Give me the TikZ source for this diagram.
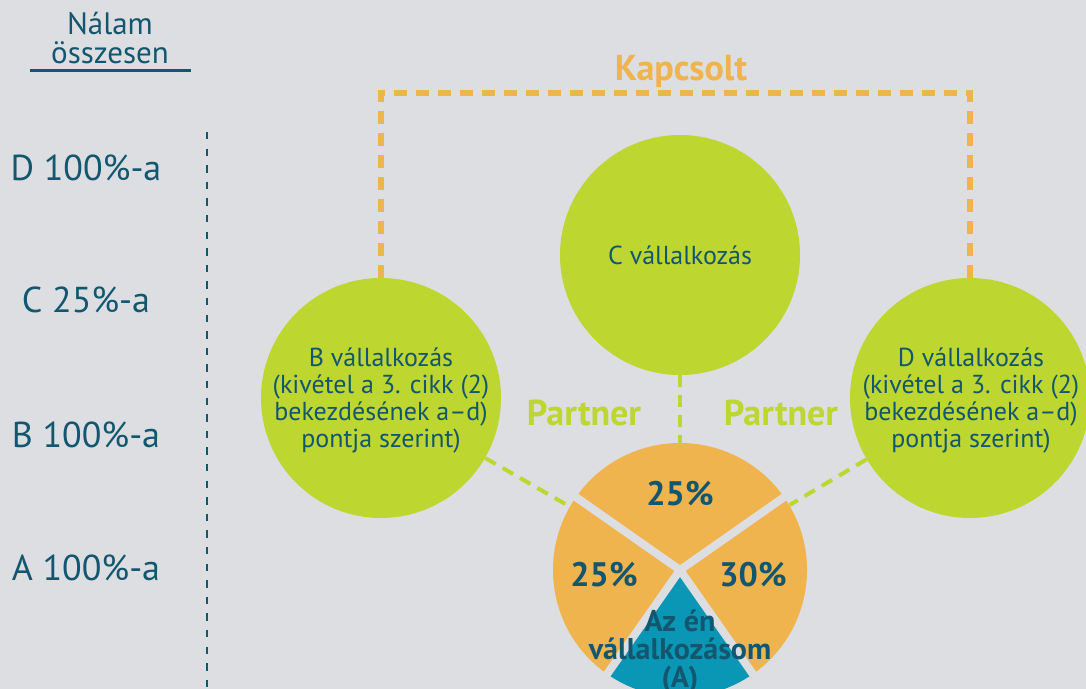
\documentclass[tikz,border=0pt]{standalone}
\usepackage{fontspec}
\setmainfont{PT Sans}
\usepackage{xcolor}
\usepackage{tikz}
\usetikzlibrary{positioning}
\definecolor{bgc}{HTML}{DDDEE1}
\definecolor{lime}{HTML}{BED630}
\definecolor{amber}{HTML}{F0B44E}
\definecolor{seablue}{HTML}{0A97B5}
\definecolor{ink}{HTML}{13566F}
\begin{document}
\begin{tikzpicture}[x=0.5pt, y=-0.5pt, text=ink,
    firm/.style={circle, fill=lime, minimum size=120pt, inner sep=0pt},
    firmtext/.style={align=center, font=\fontsize{13}{13.5}\selectfont},
    share/.style={circle, minimum size=127pt, inner sep=0pt},
    pct/.style={font=\fontsize{17}{18}\selectfont\bfseries},
    owned/.style={font=\fontsize{18}{20}\selectfont},
    partner/.style={draw=lime, line width=2pt, dash pattern=on 6pt off 4pt},
    linked/.style={draw=amber, line width=2.6pt, dash pattern=on 6.5pt off 4.5pt},
    gap/.style={draw=bgc, line width=4pt}]
	\useasboundingbox (0,0) rectangle (1086,689);
	\clip (0,0) rectangle (1086,689);
	\fill[bgc] (0,0) rectangle (1086,689);
	% bal oldali oszlop
	\node[font=\fontsize{15.5}{17}\selectfont] (nalam) at (110,24) {Nálam};
	\node[font=\fontsize{15.5}{17}\selectfont] (ossz) at (110,53) {összesen};
	\coordinate (uleft) at (30,71);
	\coordinate (uright) at (191,71);
	\draw[ink, line width=1.5pt] (uleft) -- (uright);
	\coordinate (vtop) at (207,132);
	\coordinate (vbot) at (207,689);
	\draw[ink, line width=1.3pt, dash pattern=on 3.7pt off 4.6pt] (vtop) -- (vbot);
	\node[owned] (ownD) at (86,168) {D 100\%-a};
	\node[owned] (ownC) at (86,300) {C 25\%-a};
	\node[owned] (ownB) at (86,435) {B 100\%-a};
	\node[owned] (ownA) at (86,568) {A 100\%-a};
	% vállalkozások
	\node[firm] (C) at (680,255) {};
	\node[firmtext] (Ctext) at (C) {C vállalkozás};
	\node[firm] (B) at (381,398) {};
	\node[firmtext] (Btext) at (381,400) {B vállalkozás\\(kivétel a 3. cikk (2)\\bekezdésének a–d)\\pontja szerint)};
	\node[firm] (D) at (970,398) {};
	\node[firmtext] (Dtext) at (971,400) {D vállalkozás\\(kivétel a 3. cikk (2)\\bekezdésének a–d)\\pontja szerint)};
	% kapcsolt
	\coordinate (ktop) at (680,93);
	\draw[linked] (B.north) |- (ktop) -| (D.north);
	\node[text=amber, font=\fontsize{18}{20}\selectfont\bfseries] (kapcs) at (681,72) {Kapcsolt};
	% az én vállalkozásom
	\node[share] (Apie) at (680,570) {};
	\fill[amber] (Apie.center) -- ++(35:63.5pt) arc[start angle=35, end angle=145, radius=63.5pt] -- cycle;
	\fill[amber] (Apie.center) -- ++(145:63.5pt) arc[start angle=145, end angle=235, radius=63.5pt] -- cycle;
	\fill[seablue] (Apie.center) -- ++(235:63.5pt) arc[start angle=235, end angle=305, radius=63.5pt] -- cycle;
	\fill[amber] (Apie.center) -- ++(305:63.5pt) arc[start angle=305, end angle=395, radius=63.5pt] -- cycle;
	\foreach \a in {35,145,235,305}
		\draw[gap] (Apie.center) -- ++(\a:66pt);
	\node[pct] (pC) at (680,494) {25\%};
	\node[pct] (pB) at (604,575) {25\%};
	\node[pct] (pD) at (753,575) {30\%};
	\node[align=center, font=\fontsize{15}{14}\selectfont\bfseries] (Atext) at (680,652) {Az én\\vállalkozásom\\(A)};
	% partnerek
	\draw[partner] (B) -- (Apie);
	\draw[partner] (C) -- (Apie);
	\draw[partner] (D) -- (Apie);
	\node[pct, text=lime, font=\fontsize{18}{20}\selectfont\bfseries] (partB) at (584,413) {Partner};
	\node[pct, text=lime, font=\fontsize{18}{20}\selectfont\bfseries] (partD) at (781,413) {Partner};
\end{tikzpicture}
\end{document}
